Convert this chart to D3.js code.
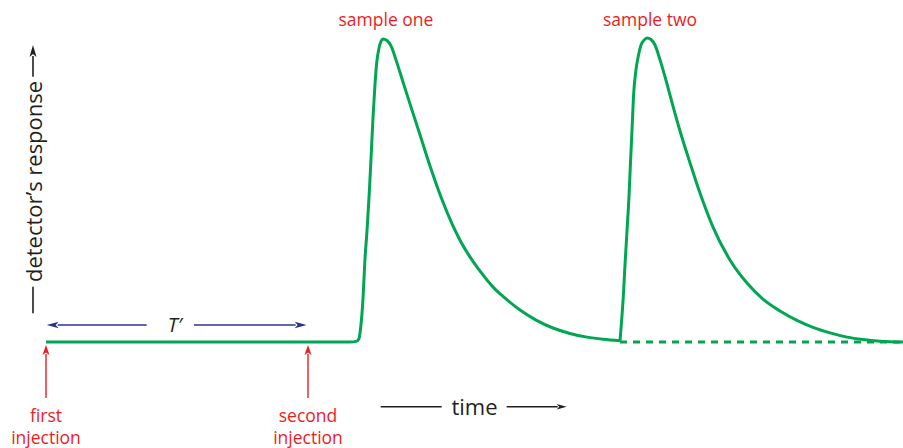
<!DOCTYPE html>
<html>
<head>
<meta charset="utf-8">
<script src="https://cdnjs.cloudflare.com/ajax/libs/d3/7.8.5/d3.min.js"></script>
<style>
  html, body { margin: 0; padding: 0; background: #fff; }
  svg { display: block; }
  text { font-family: "Open Sans", "Noto Sans", sans-serif; }
</style>
</head>
<body>
<svg id="chart" width="903" height="448"></svg>
<script>
// ---- data (arbitrary time units, relative detector response 0-100) ----
const peakOneTime = [0, 35.5, 36.2, 36.5, 36.75, 37.0, 37.2, 37.46, 37.7, 37.9, 38.16, 38.4, 38.6, 38.86, 39.1, 39.32, 39.79, 40.26, 40.84, 41.66, 42.82, 43.76, 44.81, 46.09, 47.49, 48.42, 49.47, 50.41, 51.46, 52.39, 53.33, 55.31, 57.18, 59.16, 61.14, 63.13, 65.0, 66.98];
const peakOneResp = [0, 0, 0.2, 1.0, 5.6, 14.8, 26.3, 36.8, 48.0, 58.9, 74.0, 85.2, 92.1, 96.7, 99.0, 99.7, 99.2, 97.4, 92.8, 85.5, 75.3, 67.1, 57.9, 47.7, 38.2, 32.9, 28.0, 24.2, 20.4, 17.4, 15.0, 10.5, 7.2, 4.6, 2.8, 1.6, 0.9, 0.4];
const peakTwoTime = [66.98, 67.17, 67.36, 67.56, 67.8, 68.03, 68.2, 68.38, 68.55, 68.84, 69.14, 69.43, 69.78, 70.13, 70.6, 71.06, 71.65, 72.46, 73.16, 73.98, 75.15, 76.31, 77.83, 79.81, 81.8, 83.66, 85.65, 87.63, 89.5, 91.48, 93.47, 95.33, 97.32, 100];
const peakTwoResp = [0.4, 7.2, 14.8, 25.3, 36.8, 48.0, 58.9, 69.7, 80.6, 89.5, 94.4, 97.7, 99.3, 100, 99.5, 97.7, 92.8, 84.9, 77.6, 69.4, 58.9, 49.0, 37.8, 27.0, 19.4, 14.1, 10.2, 7.1, 4.8, 3.0, 1.6, 0.8, 0.26, 0];
const baselineTime = [66.98, 100];
const baselineResp = [0, 0];
const injectionTimes = [0, 30.57];
const injectionLabels = [["first", "injection"], ["second", "injection"]];
const peakTimes = [39.32, 70.13];
const peakLabels = ["sample one", "sample two"];
const intervalLabel = "T\u2032";
const xLabel = "time";
const yLabel = "detector\u2019s response";

// ---- layout ----
const svg = d3.select("#chart");
const x = d3.scaleLinear().domain([0, 100]).range([46, 903]);
const y = d3.scaleLinear().domain([0, 100]).range([342, 38]);

const GREEN = "#00a651", RED = "#ed1c24", BLUE = "#2e3192", DARK = "#231f20";

function arrow(g, x1, y1, x2, y2, color, headLen, headW, sw) {
  const dx = x2 - x1, dy = y2 - y1, L = Math.hypot(dx, dy);
  const ux = dx / L, uy = dy / L;
  const bx = x2 - ux * headLen, by = y2 - uy * headLen;
  g.append("line").attr("x1", x1).attr("y1", y1).attr("x2", bx + ux * 1).attr("y2", by + uy * 1)
    .attr("stroke", color).attr("stroke-width", sw);
  const px = -uy * headW / 2, py = ux * headW / 2;
  g.append("path")
    .attr("d", `M${x2},${y2}L${bx + px},${by + py}L${bx + ux * headLen * 0.25},${by + uy * headLen * 0.25}L${bx - px},${by - py}Z`)
    .attr("fill", color);
}

const line = d3.line().x(d => x(d[0])).y(d => y(d[1])).curve(d3.curveMonotoneX);

// dashed extrapolated baseline
svg.append("path")
  .datum(d3.zip(baselineTime, baselineResp))
  .attr("d", d3.line().x(d => x(d[0])).y(d => y(d[1])))
  .attr("fill", "none").attr("stroke", GREEN).attr("stroke-width", 3)
  .attr("stroke-dasharray", "7,6");

// signal curves
svg.append("path")
  .datum(d3.zip(peakOneTime, peakOneResp))
  .attr("d", line)
  .attr("fill", "none").attr("stroke", GREEN).attr("stroke-width", 3).attr("stroke-linejoin", "round");
svg.append("path")
  .datum(d3.zip(peakTwoTime, peakTwoResp))
  .attr("d", line)
  .attr("fill", "none").attr("stroke", GREEN).attr("stroke-width", 3).attr("stroke-linejoin", "round");

// peak labels
svg.selectAll("text.peak").data(peakLabels).enter().append("text")
  .attr("class", "peak")
  .attr("x", (d, i) => x(peakTimes[i]) + 3)
  .attr("y", 26)
  .attr("text-anchor", "middle")
  .attr("fill", RED).attr("font-size", 17.5)
  .text(d => d);

// injection arrows + labels
injectionTimes.forEach((t, i) => {
  const g = svg.append("g");
  arrow(g, x(t), 398, x(t), 345, RED, 10, 7, 1.4);
  const tx = g.append("text").attr("text-anchor", "middle").attr("fill", RED).attr("font-size", 17.5);
  tx.append("tspan").attr("x", x(t)).attr("y", 421.5).text(injectionLabels[i][0]);
  tx.append("tspan").attr("x", x(t)).attr("y", 443.5).text(injectionLabels[i][1]);
});

// T' interval arrow
const gT = svg.append("g");
const tMid = 175;
arrow(gT, 146.7, 325, x(injectionTimes[0]) + 0.7, 325, BLUE, 12, 6.5, 1.4);
arrow(gT, 194, 325, x(injectionTimes[1]) - 1.3, 325, BLUE, 12, 6.5, 1.4);
gT.append("text").attr("x", tMid).attr("y", 332).attr("text-anchor", "middle")
  .attr("font-style", "italic").attr("font-size", 20).attr("fill", DARK).text(intervalLabel);

// time axis label
const gX = svg.append("g");
gX.append("line").attr("x1", 380.7).attr("x2", 441.7).attr("y1", 406.7).attr("y2", 406.7)
  .attr("stroke", DARK).attr("stroke-width", 1.4);
arrow(gX, 506.7, 406.7, 566.7, 406.7, DARK, 10, 5.5, 1.4);
gX.append("text").attr("x", 474.5).attr("y", 415).attr("text-anchor", "middle")
  .attr("font-size", 22).attr("fill", DARK).text(xLabel);

// response axis label
const gY = svg.append("g");
gY.append("line").attr("x1", 33).attr("x2", 33).attr("y1", 313.3).attr("y2", 286.7)
  .attr("stroke", DARK).attr("stroke-width", 1.6);
arrow(gY, 33, 76.7, 33, 45, DARK, 12, 7, 1.6);
gY.append("text").attr("transform", "translate(41.5,282) rotate(-90)")
  .attr("text-anchor", "start").attr("font-size", 21).attr("fill", DARK)
  .attr("textLength", 201).attr("lengthAdjust", "spacingAndGlyphs")
  .text(yLabel);
</script>
</body>
</html>
